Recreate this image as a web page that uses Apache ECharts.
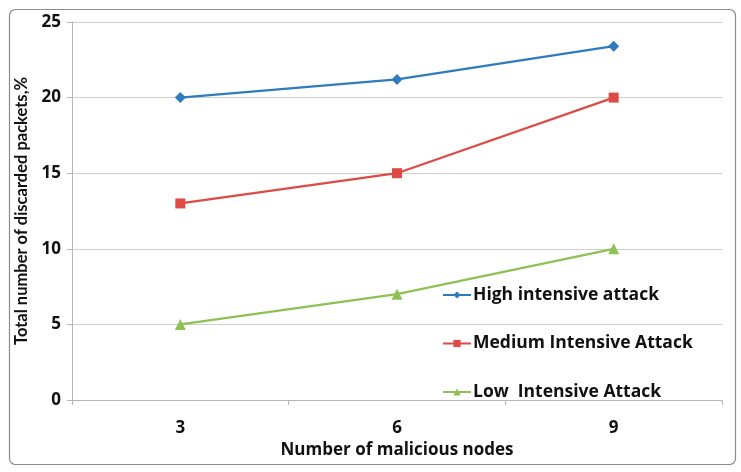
<!DOCTYPE html>
<html><head><meta charset="utf-8">
<script src="https://cdn.jsdelivr.net/npm/echarts@6/dist/echarts.min.js"></script>
<style>html,body{margin:0;padding:0;background:#fff}#c{width:741px;height:472px}</style>
</head><body><div id="c"></div>
<script>
const categories = ['3', '6', '9'];
const highIntensive = [20, 21.2, 23.4];
const mediumIntensive = [13, 15, 20];
const lowIntensive = [5, 7, 10];
const seriesNames = ['High intensive attack', 'Medium Intensive Attack', 'Low  Intensive Attack'];
const FONT = '"Open Sans", Lato, sans-serif';
const chart = echarts.init(document.getElementById('c'), null, {renderer: 'canvas'});
chart.setOption({
  animation: false,
  backgroundColor: '#fff',
  graphic: [{type: 'rect', left: 7, top: 7, shape: {width: 726, height: 455, r: 6}, style: {fill: 'none', stroke: '#8c8c8c', lineWidth: 1.2}, silent: true}],
  grid: {left: 72, right: 19, top: 22, bottom: 72},
  legend: {
    orient: 'vertical', left: 437, top: 281, itemGap: 30.5, itemWidth: 28, itemHeight: 9,
    textStyle: {fontFamily: FONT, fontWeight: 'bold', fontSize: 17.5, color: '#111', padding: [0, 0, 0, -3]},
    data: seriesNames
  },
  xAxis: {
    type: 'category', data: categories, boundaryGap: true,
    name: 'Number of malicious nodes', nameLocation: 'middle', nameGap: 41,
    nameTextStyle: {fontFamily: FONT, fontWeight: 'bold', fontSize: 17, color: '#111'},
    axisLine: {lineStyle: {color: '#b5b5b5'}},
    axisTick: {show: true, length: 5, lineStyle: {color: '#b5b5b5'}},
    axisLabel: {fontFamily: FONT, fontWeight: 'bold', fontSize: 17, color: '#111', margin: 20}
  },
  yAxis: {
    type: 'value', min: 0, max: 25, interval: 5,
    name: 'Total number of discarded packets,%', nameLocation: 'middle', nameGap: 41, nameRotate: 90,
    nameTextStyle: {fontFamily: 'Lato, sans-serif', fontWeight: 'bold', fontSize: 16.5, color: '#111'},
    axisLine: {show: true, lineStyle: {color: '#b5b5b5'}},
    axisTick: {show: true, length: 5, lineStyle: {color: '#b5b5b5'}},
    splitLine: {lineStyle: {color: '#cfcfcf'}},
    axisLabel: {fontFamily: FONT, fontWeight: 'bold', fontSize: 17, color: '#111', margin: 11}
  },
  series: [
    {name: seriesNames[0], type: 'line', data: highIntensive, symbol: 'diamond', symbolSize: 11,
     itemStyle: {color: '#2E7BBE'}, lineStyle: {width: 2.2, color: '#2E7BBE'}},
    {name: seriesNames[1], type: 'line', data: mediumIntensive, symbol: 'rect', symbolSize: 10,
     itemStyle: {color: '#DD4B45'}, lineStyle: {width: 2.2, color: '#DD4B45'}},
    {name: seriesNames[2], type: 'line', data: lowIntensive, symbol: 'triangle', symbolSize: 11,
     itemStyle: {color: '#8DC153'}, lineStyle: {width: 2.2, color: '#8DC153'}}
  ]
});
</script></body></html>
